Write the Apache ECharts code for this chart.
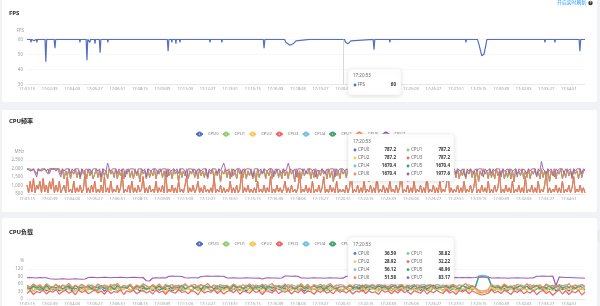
<!DOCTYPE html>
<html><head><meta charset="utf-8">
<script src="https://cdn.jsdelivr.net/npm/echarts/dist/echarts.min.js"></script>
<style>
html,body{margin:0;padding:0;background:#f0f2f5;width:600px;height:306px;overflow:hidden}
.card{position:absolute;left:2px;width:595px;background:#fff;border-radius:2px}
#chart{position:absolute;left:0;top:0;width:600px;height:306px}
</style></head><body>
<div class="card" style="top:-4px;height:106px"></div>
<div class="card" style="top:110px;height:102px"></div>
<div class="card" style="top:218px;height:100px"></div>
<div id="chart"></div>
<script>
// ---- data ----
const startTime = '17:01:15';      // time of x = 0
const spanSeconds = 2076;          // x axis extent (s)
const labelSeconds = 84;           // tick label spacing (s)
const freqStep = 6;                // sample step of the frequency series (s)
const loadStep = 12;               // sample step of the load series (s)
const tipSeconds = 1178;           // 17:20:53
const freqTipIndex = 196;
const loadTipIndex = 98;
const tipTime = '17:20:53';
const cpuNames = ['CPU0','CPU1','CPU2','CPU3','CPU4','CPU5','CPU6','CPU7'];

// FPS: [seconds since start, fps]
const fpsPoints = [[0,60],[13,60],[15,58],[17,60],[24,60],[26,59],[28,60],[35,60],[37,58],[39,60],
[67,60],[70,45],[73,60],[101,60],[104,54],[107,60],
[195,60],[197,58],[199,60],[210,60],[212,59],[214,60],[220,60],[223,46],[226,60],[232,60],[234,58],[236,60],
[251,60],[253,57],[255,60],[269,60],[272,51],[275,60],[284,60],[286,59],[288,60],[299,60],[301,58],[303,60],
[344,60],[346,59],[348,60],[474,60],[476,59],[478,60],
[522,60],[525,52],[528,60],[537,60],[539,58],[541,60],[552,60],[554,57],[556,60],[567,60],[569,58],[571,60],
[612,60],[614,59],[616,60],[660,60],[662,59],[664,60],[679,60],[681,58],[683,60],[701,60],[703,59],[705,60],
[723,60],[725,58],[727,60],[764,60],[766,59],[768,60],[809,60],[811,59],[813,60],
[879,60],[882,54],[885,60],[958,60],[963,58],[978,56],[990,57],[1001,59],[1004,60],
[1051,60],[1053,59],[1055,60],[1099,60],[1101,59],[1103,60],
[1181,60],[1185,58],[1194,57],[1205,59],[1208,60],[1288,60],[1291,53],[1294,60],[1348,60],[1350,58],[1352,60],
[1419,60],[1421,59],[1423,60],[1523,60],[1525,59],[1527,60],[1560,60],[1562,59],[1564,60],[1572,60],[1574,59],[1576,60],
[1616,60],[1618,59],[1620,60],[1631,60],[1633,58],[1635,60],
[1676,60],[1681,57],[1692,49],[1700,50],[1707,56],[1711,60],
[1906,60],[1908,59],[1910,60],[1925,60],[1927,58],[1929,60],[1944,60],[1946,59],[1948,60],[1962,60],[1964,58],[1966,60],
[1981,60],[1983,59],[1985,60],[2054,60],[2057,52],[2060,60],[2076,60]];

// cluster frequencies (MHz), one sample per 6 s: CPU0-3 little, CPU4-6 mid, CPU7 big
const littleFreq = [
1018,576,1248,614,1402,576,1018,787,1248,576, 1402,614,1018,576,1248,787,1402,576,1018,614,
1248,576,787,1018,576,1517,614,787,576,1248, 576,864,614,1018,576,787,1805,576,864,576,
1018,614,1248,576,787,576,1018,576,1517,614, 864,576,1248,576,787,614,1018,576,864,1709,
576,787,614,1018,576,1248,576,864,576,1018, 614,787,1517,576,864,576,1018,614,787,576,
1248,576,864,614,1018,576,1805,576,787,614, 1018,576,864,576,1248,614,787,576,1018,1517,
576,864,614,1018,576,787,1248,576,864,576, 1018,614,787,576,864,576,1517,576,787,614,
1018,576,864,576,787,614,1248,576,864,576, 1018,576,787,1805,576,864,614,1018,576,787,
576,864,576,1248,614,787,576,1018,576,864, 614,1517,576,787,576,1018,614,864,576,787,
1248,576,864,576,1018,614,787,576,864,1709, 576,787,614,1018,576,864,576,1248,576,787,
614,1018,576,864,1517,576,787,576,1018,614, 864,576,1248,576,787,614,787.2,576,1018,576,
864,1805,576,787,614,1018,576,864,576,1248, 576,787,614,1018,576,864,576,1517,576,787,
614,1018,576,864,576,1248,614,787,576,1018, 576,864,1709,576,787,614,1018,576,864,576,
1248,576,787,614,1018,576,864,576,1517,576, 787,614,1018,576,864,576,1248,576,787,614,
1018,1805,576,864,576,787,614,1018,576,864, 576,1248,576,787,614,1018,576,864,1517,576,
787,576,1018,614,864,576,1248,576,787,576, 1018,614,864,1709,576,787,576,1018,614,864,
576,1248,576,787,614,1018,576,864,576,1517, 576,787,614,1018,576,864,576,1248,576,787,
614,1018,1805,576,864,576,787,614,1018,576, 864,576,1248,576,787,614,1018,576,864,1517,
576,787,614,1018,576,864,576];
const midFreq = [
1977,1977,1862,1977,1977,1977,1670,1977,1977,1862, 1977,1977,1977,1670,1977,1862,1977,1977,1977,1862,
1977,1670,1977,1401,1862,1574,1977,1401,1862,1670, 1977,1478,1862,1401,1977,1670,1862,1401,1977,1574,
1862,1401,1670,1977,1478,1862,1209,1977,1574,1862, 1401,1977,1670,1862,1478,1977,1401,1862,1574,1977,
1401,1862,1670,1977,1478,1862,1401,1977,1574,1862, 1209,1977,1670,1862,1401,1977,1478,1862,1574,1977,
1401,1862,1670,1977,1478,1862,1401,1977,1574,1862, 1401,1977,1670,1862,1209,1977,1478,1862,1574,1977,
1401,1862,1670,1977,1478,1862,1401,1977,1574,1862, 1478,1977,1401,1862,1670,1977,1401,1862,1574,1977,
1209,1862,1670,1977,1478,1862,1401,1977,1574,1862, 1401,1977,1670,1862,1478,1977,1401,1862,1574,1977,
1401,1862,1209,1977,1478,1862,1670,1977,1401,1862, 1574,1977,1401,1862,1670,1977,1478,1862,1401,1977,
1574,1862,1401,1977,1670,1862,1209,1977,1478,1862, 1401,1977,1574,1862,1670,1977,1401,1862,1478,1977,
1401,1862,1574,1977,1670,1862,1401,1977,1478,1862, 1209,1977,1574,1862,1401,1977,1670.4,1862,1478,1977,
1401,1862,1574,1977,1670,1862,1401,1977,1478,1862, 1401,1977,1209,1862,1670,1977,1401,1862,1574,1977,
1478,1862,1401,1977,1670,1862,1574,1977,1401,1862, 1478,1977,1401,1862,1670,1977,1209,1862,1574,1977,
1401,1862,1478,1977,1670,1862,1401,1977,1574,1862, 1401,1977,1478,1862,1670,1977,1401,1862,1209,1977,
1574,1862,1401,1977,1670,1862,1478,1977,1401,1862, 1574,1977,1401,1862,1670,1977,1478,1862,1401,1977,
1209,1862,1574,1977,1670,1862,1401,1977,1478,1862, 1401,1977,1574,1862,1670,1977,1401,1862,1478,1977,
1401,1862,1209,1977,1670,1862,1574,1977,1401,1862, 1478,1977,1401,1862,1670,1977,1574,1862,1401,1977,
1478,1862,1401,1977,1209,1862,1574,1977,1401,1862, 1670,1977,1401,1862,1478,1977,1574,1862,1401,1977,
1670,1862,1401,1977,1478,1862,1977];
const bigFreq = [
1978,1900,1978,1843,1978,1900,1497,1978,1843,1978, 1900,1978,1843,1978,1708,1978,1900,1978,1843,1978,
1900,1497,1978,1843,1978,1900,1978,1708,1978,1843, 1978,1900,1978,1497,1978,1843,1900,1978,1843,1978,
1708,1978,1900,1978,1843,1978,1497,1978,1900,1843, 2323,1978,1843,1978,1900,1978,1708,1978,1843,1900,
1978,1497,1978,1843,1978,1900,1978,1843,1708,1978, 1900,1978,1843,1978,1497,1978,1900,1843,1978,1900,
1978,1708,1978,1843,1978,1900,1978,1497,1978,1843, 1900,1978,1843,1978,1708,1978,1900,1978,1843,1497,
1978,1900,1978,1843,1978,1708,1978,1900,1843,1978, 1900,1978,1497,1978,1843,1978,1900,1978,1708,1978,
1843,1900,2323,1978,1843,1978,1900,1497,1978,1843, 1978,1900,1978,1708,1978,1843,1978,1900,1978,1843,
1497,1978,1900,1978,1843,1978,1708,1978,1900,1843, 1978,1900,1978,1497,1978,1843,1978,1900,1708,1978,
1843,1978,2323,1978,1900,1843,1978,1497,1978,1900, 1978,1843,1978,1708,1978,1900,1978,1843,1978,1497,
1900,1978,1843,1978,1900,1708,1978,1843,1978,1900, 1978,1497,1978,1843,1978,1900,1977.6,1843,1978,1708,
1978,1900,1978,1843,1497,1978,1900,1978,1843,1978, 1708,1978,1900,1843,1978,1900,1978,1497,1978,1843,
1978,1900,1708,1978,1843,1978,1900,1978,1497,1978, 1843,1900,1978,1708,1978,1843,1978,1900,1978,1497,
1978,1843,1900,1978,1708,1978,1900,1843,1978,1900, 1497,1978,1843,1978,1900,1978,1708,1978,1843,1900,
1978,1497,1978,1900,1843,1978,1708,1978,1900,1843, 1978,1900,1497,1978,1843,1978,1900,1708,1978,1843,
1978,1900,1978,1497,1978,1843,1900,1978,1708,1978, 1843,1978,1900,1978,1497,1978,1843,1900,1978,1708,
1978,1843,1900,1978,1497,1978,1900,1843,1978,1900, 1708,1978,1843,1978,1900,1978,1497,1978,1843,2419,
1978,1900,1708,1978,1843,1978,1900,1497,1978,1843, 1978,1900,1978,1708,1978,1843,1900,1978,1497,1978,
1843,1978,1900,1978,1708,1978,1843];

// CPU load (%), one sample per 12 s
const load0 = [38,44,31,42,35,47,33,40,36,45, 32,41,38,46,30,43,37,44,34,40, 45,33,39,47,31,42,36,44,32,41,
38,46,34,40,43,31,45,37,42,33, 46,35,41,38,44,32,40,47,34,39, 43,31,45,36,42,38,46,33,40,44,
35,41,47,32,39,44,36,42,31,45, 38,43,34,46,37,41,32,44,39,35, 45,33,40,47,36,42,31,44,38,41,
34,46,37,43,32,40,45,35,36.59,42, 33,44,38,46,31,41,36,43,39,34, 45,37,42,32,46,35,40,44,33,41,
38,46,34,43,37,31,45,39,42,35, 44,32,41,38,46,34,40,43,36,45, 28,25,27,31,40,34,46,37,42,33,
45,38,41,32,44,36,43,31,40,46, 35,42,38,45,33,41,37,44,32,40, 46,35,42,38];
const load1 = [42,35,48,37,44,33,46,39,41,36, 47,34,43,38,45,32,40,46,35,42, 37,44,33,41,48,36,43,39,45,34,
40,47,35,42,38,45,33,44,37,41, 36,46,39,43,34,47,38,42,35,44, 41,37,45,33,43,39,47,36,41,38,
44,34,42,46,37,40,33,45,39,43, 35,47,38,41,44,36,42,34,46,39, 37,43,35,45,41,38,47,33,42,40,
44,36,41,34,46,39,43,37,38.82,45, 40,35,43,38,47,34,41,44,36,42, 39,45,33,43,37,46,40,35,44,38,
42,36,47,39,34,45,41,37,43,35, 46,38,42,34,44,40,36,47,39,43, 30,26,29,33,38,45,36,42,34,46,
39,43,35,44,40,37,46,33,42,38, 45,36,41,34,47,39,43,37,44,35, 40,46,38,42];
const load2 = [35,48,29,44,52,31,46,27,50,38, 45,30,53,36,42,28,49,34,47,32, 51,37,26,45,40,54,33,48,29,43,
36,50,31,46,39,53,28,44,35,49, 30,47,41,26,52,37,45,32,48,34, 43,29,51,38,46,31,54,36,42,27,
49,35,44,30,52,39,47,28,45,33, 50,37,43,26,48,34,53,31,46,40, 29,51,36,45,32,49,38,54,30,44,
37,47,28,52,35,43,31,48,28.92,46, 34,50,39,27,45,32,53,37,44,30, 48,36,51,29,43,38,46,33,52,35,
41,27,49,36,45,31,54,38,43,30, 47,34,51,29,44,37,49,32,46,39, 24,22,26,30,48,35,43,31,52,37,
45,28,50,36,42,33,48,30,53,39, 44,27,47,35,51,32,46,38,43,29, 49,36,44,31];
const load3 = [22,34,18,30,25,37,20,32,27,38, 19,29,35,23,31,17,36,26,33,21, 28,38,24,32,19,35,22,30,26,37,
18,33,27,36,21,29,34,24,31,20, 37,25,32,19,35,28,23,38,26,30, 21,34,29,17,36,24,31,27,38,22,
33,20,30,35,25,37,19,32,28,23, 36,26,31,18,34,29,24,38,21,30, 27,35,20,33,25,37,22,31,29,19,
34,26,36,23,30,21,38,27,32.22,24, 35,20,31,28,37,22,33,25,29,18, 36,27,32,21,34,24,38,26,30,19,
33,28,23,37,20,31,25,35,27,22, 38,24,30,19,34,28,36,21,32,26, 20,16,19,23,37,25,31,22,35,28,
18,33,26,38,21,30,24,36,17,29, 34,22,31,15,27,37,20,33,18,30, 25,35,16,28];
const load4 = [52,45,58,48,55,42,57,50,46,59, 44,53,49,56,41,54,47,58,51,45, 57,48,53,43,56,50,46,59,52,44,
55,49,58,42,51,47,57,53,45,56, 48,54,43,59,50,46,55,52,41,57, 49,56,45,53,58,44,51,47,57,50,
43,55,52,48,59,46,54,41,56,50, 57,45,53,49,58,44,51,55,47,52, 46,58,50,43,56,53,48,59,45,54,
51,47,57,44,55,49,52,58,56.12,46, 54,50,43,57,48,53,45,59,51,47, 56,44,52,49,58,46,55,42,53,50,
47,57,51,45,54,59,48,52,43,56, 50,46,58,53,44,55,49,57,51,45, 93,95,94,90,56,48,53,45,58,51,
47,55,43,57,52,49,58,46,54,50, 44,56,51,48,59,45,53,57,47,52, 55,46,58,50];
const load5 = [46,40,52,44,49,38,54,42,50,45, 53,41,47,51,39,55,43,48,46,52, 40,49,44,54,42,47,51,38,53,45,
48,43,55,41,50,46,52,39,47,54, 44,51,40,48,53,42,49,45,55,41, 47,52,43,50,38,54,46,49,41,53,
48,44,51,39,55,45,50,42,47,53, 41,49,46,54,40,52,44,48,51,43, 55,45,50,39,47,53,42,49,46,52,
44,51,38,48,54,45,41,50,48.96,43, 52,46,49,40,55,44,51,47,42,53, 45,50,39,48,54,43,52,46,49,41,
53,47,44,51,40,49,55,42,48,46, 50,43,52,45,39,54,47,41,53,48, 86,89,88,84,52,46,49,43,54,45,
50,41,48,53,44,51,39,47,55,42, 49,45,52,40,48,54,43,50,46,51, 42,53,47,49];
const load6 = [55,47,60,50,57,44,61,52,48,58, 45,56,51,62,47,54,49,59,43,57, 52,46,60,49,55,43,58,51,62,47,
54,50,59,44,56,48,61,53,46,57, 49,60,45,55,52,58,43,56,50,61, 47,54,59,44,57,51,62,48,53,46,
58,50,55,43,60,52,47,57,49,61, 45,56,51,59,48,54,62,46,55,50, 60,44,57,52,49,61,47,55,43,58,
51,59,46,54,62,48,56,50,51.58,45, 57,49,60,53,44,58,51,55,47,61, 50,56,43,59,52,48,62,46,55,51,
58,45,54,60,49,56,44,61,53,47, 55,50,59,46,57,52,62,48,54,44, 35,32,34,38,58,51,55,47,60,49,
53,45,59,52,48,61,46,56,50,57, 44,60,51,55,47,58,53,49,62,45, 56,50,58,48];
const load7 = [85,86,85,84,86,85,85,81,80,79, 80,81,80,79,80,81,80,79,80,86, 87,86,85,86,87,86,85,86,86,87,
86,85,86,87,86,85,86,73,72,84, 85,84,85,84,91,92,91,91,90,85, 84,85,85,84,90,91,92,91,91,92,
91,91,84,84,85,84,83,84,85,84, 84,83,84,80,84,85,84,84,83,84, 92,92,91,92,91,84,84,83,84,85,
84,84,83,84,85,84,84,83,83.17,91, 91,90,91,86,85,86,85,85,86,85, 85,86,85,86,85,85,86,85,86,85,
85,86,85,86,85,86,85,85,86,85, 86,85,85,86,85,86,85,86,85,86, 88,89,88,87,84,84,85,84,84,83,
84,84,85,84,84,83,84,84,91,91, 92,91,91,92,54,88,87,86,86,85, 85,84,84,83];

const fpsTicks = [30, 60, 10];
const freqTicks = [500, 2500, 500];
const loadTicks = [0, 120, 30];

// ---- build ----
const palette = ['#5470c6','#91cc75','#fac858','#ee6666','#73c0de','#3ba272','#fc8452','#9a60b4'];
const t0 = startTime.split(':').map(Number).reduce((a,v)=>a*60+v, 0);
function timeLabel(sec){
  const s = t0 + sec;
  return [Math.floor(s/3600), Math.floor(s%3600/60), s%60].map(v=>String(v).padStart(2,'0')).join(':');
}
const withTime = (arr, step) => arr.map((v,i)=>[i*step, v]);
const freqByCpu = [littleFreq,littleFreq,littleFreq,littleFreq,midFreq,midFreq,midFreq,bigFreq];
const loadByCpu = [load0,load1,load2,load3,load4,load5,load6,load7];

const FONT = '"Noto Sans", "Noto Sans CJK SC", sans-serif';
const grids = [
  {left:27, right:15, top:39.3, height:45},
  {left:27, right:15, top:160, height:34},
  {left:27, right:15, top:269, height:34.3}
];
const xAxes = grids.map((g,i)=>({
  type:'value', gridIndex:i, min:0, max:spanSeconds, interval:labelSeconds,
  splitLine:{show:false}, axisTick:{show:false},
  axisLine:{lineStyle:{color:'#e3e3e3', width:0.8}},
  axisLabel:{fontSize:4, color:'#9a9a9a', margin:3, fontFamily:FONT, showMaxLabel:false, formatter:timeLabel}
}));
function yAxis(i, ticks, name, fmt){
  return {type:'value', gridIndex:i, min:ticks[0], max:ticks[1], interval:ticks[2],
    name:name, nameGap:6,
    nameTextStyle:{fontSize:4.5, color:'#9a9a9a', align:'right', padding:[0,3,0,0], fontFamily:FONT},
    axisLine:{show:false}, axisTick:{show:false},
    axisLabel:{fontSize:4.5, color:'#9a9a9a', margin:4, formatter:fmt, fontFamily:FONT},
    splitLine:{lineStyle:{color:'#f4f4f4', width:0.6}}};
}
const yAxes = [
  yAxis(0, fpsTicks, 'FPS'),
  yAxis(1, freqTicks, 'MHz', v=>v.toLocaleString('en-US')),
  yAxis(2, loadTicks, '%')
];

const series = [{
  name:'FPS', type:'line', xAxisIndex:0, yAxisIndex:0, data:fpsPoints, showSymbol:false,
  color:palette[0], lineStyle:{width:1.2}, animation:false,
  markLine:{silent:true, symbol:['none','none'], label:{show:false},
    lineStyle:{color:'#c8c8c8', width:0.7, type:'solid'},
    data:[{xAxis:tipSeconds}]}
}];
cpuNames.forEach((n,k)=>series.push({name:n, type:'line', xAxisIndex:1, yAxisIndex:1, data:withTime(freqByCpu[k], freqStep),
  showSymbol:false, symbol:'emptyCircle', color:palette[k], lineStyle:{width:0.9}, animation:false}));
cpuNames.forEach((n,k)=>series.push({name:n, type:'line', xAxisIndex:2, yAxisIndex:2, data:withTime(loadByCpu[k], loadStep),
  showSymbol:false, symbol:'emptyCircle', color:palette[k], lineStyle:{width:1.2}, animation:false}));

// ---- static tooltip annotations ----
const Z = 100;
function txt(x,y,text,opt){
  return {type:'text', x:x, y:y, z:Z, silent:true,
    style:Object.assign({text:text, fill:'#666', font:'4.5px '+FONT, verticalAlign:'middle'}, opt||{})};
}
function tipBox(x,y,w,h){
  return {type:'rect', z:Z-1, silent:true, shape:{x:x,y:y,width:w,height:h,r:2},
    style:{fill:'#fff', stroke:'#ececec', lineWidth:0.5, shadowBlur:5, shadowColor:'rgba(0,0,0,0.13)', shadowOffsetY:1}};
}
function dot(cx,cy,color){
  return {type:'circle', z:Z, silent:true, shape:{cx:cx,cy:cy,r:1.4}, style:{fill:color}};
}
function row(colX, y, k, valueText, valueRight){
  return [dot(colX, y, palette[k]), txt(colX+3, y, cpuNames[k]),
    txt(valueRight, y, valueText, {align:'right', fill:'#333', font:'bold 4.5px '+FONT})];
}
const fpsAtTip = fpsPoints.filter(p=>p[0]<=tipSeconds).pop()[1];
const g = [];
g.push(txt(9, 13, 'FPS', {fill:'#262626', font:'bold 6px '+FONT}));
g.push(txt(9, 121.5, 'CPU频率', {fill:'#262626', font:'bold 6px '+FONT}));
g.push(txt(9, 232.5, 'CPU负载', {fill:'#262626', font:'bold 6px '+FONT}));
g.push(txt(586, 3, '开启实时刷新', {fill:'#1890ff', align:'right', font:'4.8px '+FONT}));
g.push({type:'circle', z:Z, silent:true, shape:{cx:590.5, cy:3, r:2.2}, style:{fill:'#333'}});
g.push(txt(590.5, 3.1, '?', {fill:'#fff', align:'center', font:'bold 3.5px '+FONT}));
g.push({type:'circle', z:Z, silent:true, shape:{cx:607, cy:236, r:10}, style:{fill:'#ebebeb'}});
// FPS tooltip
g.push(tipBox(348, 69, 53, 26));
g.push(txt(353, 75.7, tipTime));
g.push(dot(355, 85, palette[0]));
g.push(txt(357.5, 85, 'FPS'));
g.push(txt(396, 85, String(fpsAtTip), {align:'right', fill:'#333', font:'bold 4.5px '+FONT}));
// freq tooltip
g.push(tipBox(348, 134, 106, 47));
g.push(txt(353, 141.7, tipTime));
[150, 158, 166, 174].forEach((y,r)=>{
  g.push(...row(355, y, 2*r, freqByCpu[2*r][freqTipIndex].toFixed(1), 396));
  g.push(...row(408, y, 2*r+1, freqByCpu[2*r+1][freqTipIndex].toFixed(1), 450));
});
// load tooltip
g.push(tipBox(348, 237, 106, 47));
g.push(txt(353, 245, tipTime));
[253.5, 261.7, 269.7, 277.7].forEach((y,r)=>{
  g.push(...row(355, y, 2*r, loadByCpu[2*r][loadTipIndex].toFixed(2), 396));
  g.push(...row(408, y, 2*r+1, loadByCpu[2*r+1][loadTipIndex].toFixed(2), 450));
});

const legendBase = {left:'center', padding:0, itemWidth:7, itemHeight:4, itemGap:3, data:cpuNames,
  textStyle:{fontSize:4.2, color:'#777', fontFamily:FONT}, selectedMode:false};

const chart = echarts.init(document.getElementById('chart'), null, {renderer:'canvas'});
chart.setOption({
  animation:false,
  textStyle:{fontFamily:FONT},
  grid:grids, xAxis:xAxes, yAxis:yAxes, series:series,
  legend:[Object.assign({top:131.5}, legendBase), Object.assign({top:241.3}, legendBase)],
  graphic:{elements:g}
});
</script>
</body></html>
